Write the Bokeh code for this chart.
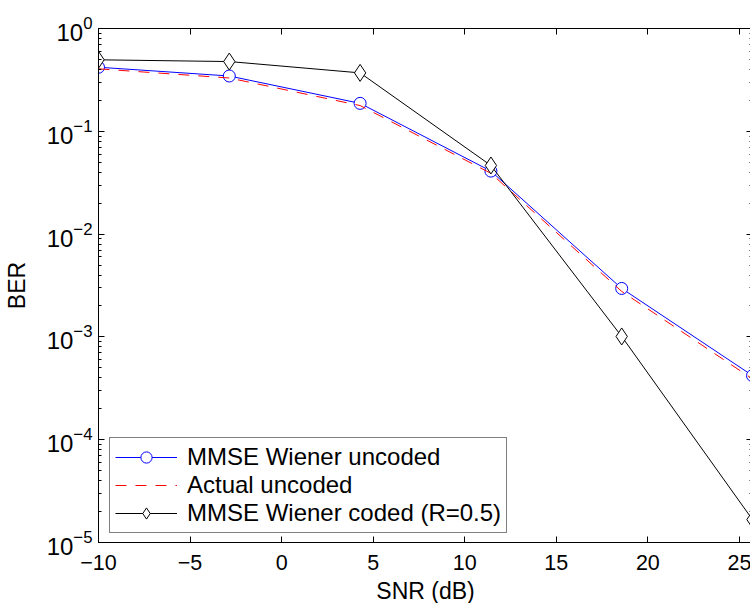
from bokeh.plotting import figure
from bokeh.models import (LogAxis, LinearAxis, FixedTicker, LogTicker, Legend,
                          CustomJSTickFormatter, Range1d)
from bokeh.embed import file_html
from bokeh.resources import INLINE

# ---- data ----
snr = [-10.0, -2.857, 4.286, 11.429, 18.571, 25.714]
mmse_uncoded = [0.42, 0.345, 0.187, 0.041, 0.00296, 0.00042]
actual_uncoded = [0.405, 0.33, 0.178, 0.039, 0.00277, 0.00039]
mmse_coded = [0.496, 0.477, 0.37, 0.0465, 0.00101, 0.0000167]

x_ticks = [-10, -5, 0, 5, 10, 15, 20, 25]
x_label = "SNR (dB)"
y_label = "BER"
names = ["MMSE Wiener uncoded", "Actual uncoded", "MMSE Wiener coded (R=0.5)"]

FONT = "Liberation Sans"

p = figure(frame_width=654, frame_height=514, y_axis_type="log",
           x_range=Range1d(-10, snr[-1]), y_range=Range1d(1e-5, 1),
           output_backend="svg", toolbar_location=None,
           min_border_left=96, min_border_top=28, min_border_bottom=61,
           min_border_right=0)
p.grid.visible = False
p.outline_line_color = "black"
p.background_fill_color = "white"
p.border_fill_color = "white"

minus_fmt = CustomJSTickFormatter(code="return tick < 0 ? '\u2212' + Math.abs(tick) : String(tick);")
blank_fmt = CustomJSTickFormatter(code="return ' ';")

def style_axis(ax, labels=True):
    ax.axis_line_color = "black"
    ax.major_tick_line_color = "black"
    ax.minor_tick_line_color = "black"
    ax.major_tick_in = 6
    ax.major_tick_out = 0
    ax.minor_tick_in = 3
    ax.minor_tick_out = 0
    ax.major_label_text_font = FONT
    ax.major_label_text_color = "black"
    ax.axis_label_text_font = FONT
    ax.axis_label_text_font_style = "normal"
    ax.axis_label_text_color = "black"
    if not labels:
        ax.formatter = blank_fmt
        ax.major_label_text_font_size = "1px"
        ax.major_label_standoff = 0

xax = p.xaxis[0]
style_axis(xax)
xax.ticker = FixedTicker(ticks=x_ticks)
xax.formatter = minus_fmt
xax.minor_tick_line_color = None
xax.major_label_text_font_size = "21.5px"
xax.major_label_standoff = 12
xax.axis_label = x_label
xax.axis_label_text_font_size = "23px"
xax.axis_label_standoff = 5

yax = p.yaxis[0]
style_axis(yax)
yax.ticker = LogTicker(desired_num_ticks=6, num_minor_ticks=10)
yax.major_label_text_font_size = "24px"
yax.major_label_standoff = 6
yax.axis_label = y_label
yax.axis_label_text_font_size = "23px"
yax.axis_label_standoff = 14

top = LinearAxis(ticker=FixedTicker(ticks=x_ticks))
style_axis(top, labels=False)
top.minor_tick_line_color = None
p.add_layout(top, "above")

right = LogAxis(ticker=LogTicker(desired_num_ticks=6, num_minor_ticks=10))
style_axis(right, labels=False)
p.add_layout(right, "right")

r1l = p.line(snr, mmse_uncoded, line_color="#0000ff", line_width=1)
r1m = p.scatter(snr, mmse_uncoded, marker="circle", size=12, line_color="#0000ff",
                fill_color="white", line_width=1)
r2l = p.line(snr, actual_uncoded, line_color="#ff0000", line_width=1, line_dash="11 9")
r3l = p.line(snr, mmse_coded, line_color="black", line_width=1)
r3m = p.scatter(snr, mmse_coded, marker="diamond", size=17, line_color="black",
                fill_color="white", line_width=1)

legend = Legend(items=[(names[0], [r1l, r1m]), (names[1], [r2l]), (names[2], [r3l, r3m])],
                location=(11, 9))
legend.label_text_font = FONT
legend.label_text_font_size = "24px"
legend.label_text_color = "black"
legend.border_line_color = "black"
legend.border_line_width = 1
legend.background_fill_color = "white"
legend.background_fill_alpha = 1
legend.padding = 5
legend.spacing = 0
legend.glyph_width = 62
legend.glyph_height = 28
legend.label_height = 28
legend.label_standoff = 10
legend.margin = 0
p.add_layout(legend, "center")

open("out.html", "w").write(file_html(p, INLINE))
